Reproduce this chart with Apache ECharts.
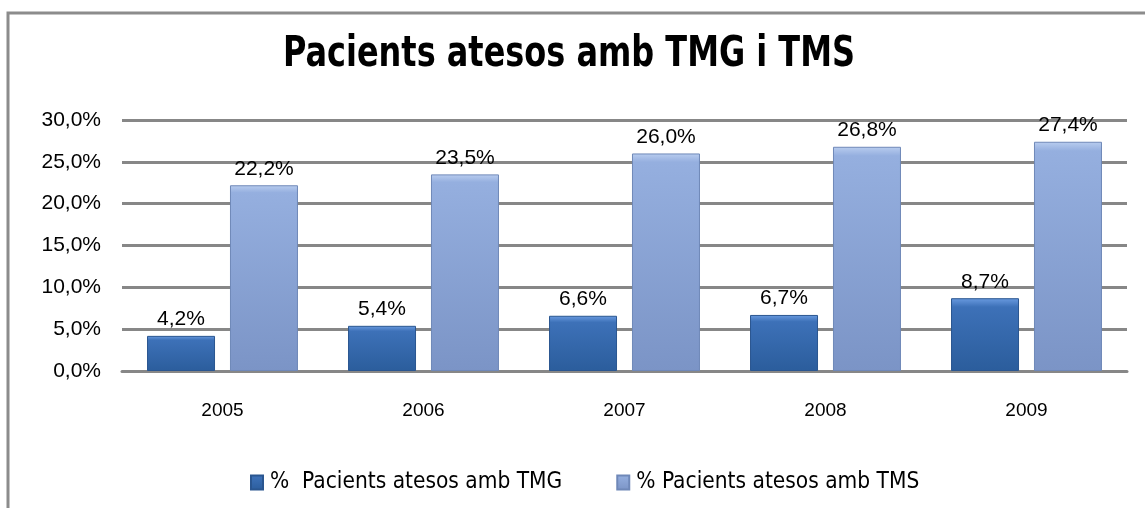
<!DOCTYPE html>
<html><head><meta charset="utf-8">
<script src="https://cdn.jsdelivr.net/npm/echarts@6/dist/echarts.min.js"></script>
<style>html,body{margin:0;padding:0;background:#fff}#c{width:1145px;height:508px}</style>
</head><body><div id="c"></div>
<script>
const categories = ['2005','2006','2007','2008','2009'];
const tmg = [4.2, 5.4, 6.6, 6.7, 8.7];
const tms = [22.2, 23.5, 26.0, 26.8, 27.4];
const seriesNames = ['%  Pacients atesos amb TMG', '% Pacients atesos amb TMS'];
const titleText = 'Pacients atesos amb TMG i TMS';

const fmt = v => v.toFixed(1).replace('.', ',') + '%';
const titleFont = 'bold 42px "DejaVu Sans Condensed"';
const cv = document.createElement('canvas').getContext('2d');
cv.font = titleFont;
const titleW = cv.measureText(titleText).width;
const titleTargetW = 572;
const sx = titleTargetW / titleW;

const chart = echarts.init(document.getElementById('c'));
const lbl = {show:true, position:'top', distance:6, color:'#000', fontSize:21, fontFamily:'Liberation Sans', formatter:p=>fmt(p.value)};
chart.setOption({
  animation:false,
  backgroundColor:'#fff',
  graphic:[
    {type:'rect', shape:{x:8, y:13, width:1200, height:600}, style:{fill:'none', stroke:'#8c8c8c', lineWidth:3}, silent:true},
    {type:'text', x:569, y:55, scaleX:sx, style:{text:titleText, font:titleFont, fill:'#000', align:'center', verticalAlign:'middle'}, silent:true}
  ],
  legend:{top:466, left:245, itemWidth:12, itemHeight:14, itemGap:54,
    textStyle:{fontFamily:'DejaVu Sans Condensed', fontSize:22.5, color:'#000', padding:[0,0,0,2]}, icon:'rect'},
  grid:{left:122, right:18, top:120, bottom:137},
  xAxis:{type:'category', data:categories, axisTick:{show:false},
    axisLine:{lineStyle:{color:'#878787', width:3}},
    axisLabel:{margin:30, fontSize:19, fontFamily:'Liberation Sans', color:'#000'}},
  yAxis:{type:'value', min:0, max:30, interval:5,
    axisLine:{show:false}, axisTick:{show:false},
    splitLine:{lineStyle:{color:'#878787', width:3}},
    axisLabel:{margin:21, fontSize:21, fontFamily:'Liberation Sans', color:'#000', formatter:v=>fmt(v)}},
  series:[
    {name:seriesNames[0], type:'bar', data:tmg, barWidth:68, barGap:'22%', label:lbl,
     itemStyle:{color:new echarts.graphic.LinearGradient(0,0,0,1,[{offset:0,color:'#6a9be0'},{offset:0.12,color:'#3d71b8'},{offset:1,color:'#2b5d9c'}]), borderColor:'#2a5690', borderWidth:1}},
    {name:seriesNames[1], type:'bar', data:tms, barWidth:68, label:lbl,
     itemStyle:{color:new echarts.graphic.LinearGradient(0,0,0,1,[{offset:0,color:'#b9cdef'},{offset:0.04,color:'#95afdf'},{offset:1,color:'#7b94c6'}]), borderColor:'#6f88b8', borderWidth:1}}
  ]
});
</script></body></html>
